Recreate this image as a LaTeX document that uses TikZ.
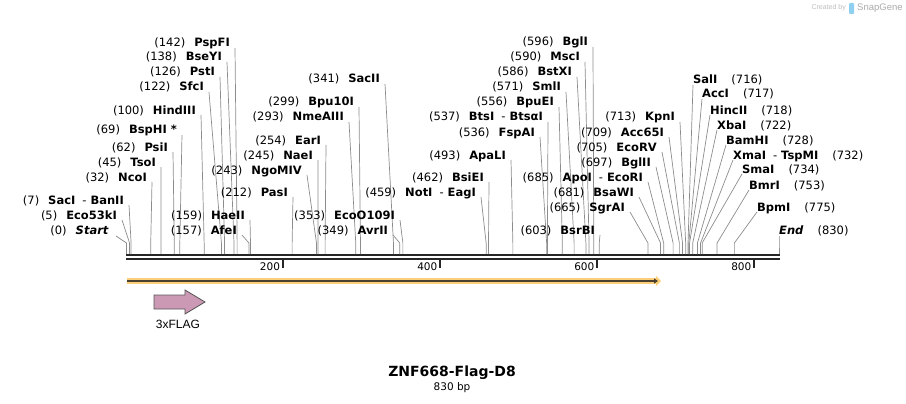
\documentclass[tikz,border=0pt]{standalone}
\usepackage{fontspec}
\setmainfont{DejaVu Sans}
\newfontfamily\featfont{Liberation Sans}
\usetikzlibrary{arrows.meta}
\definecolor{cut600}  {HTML}{8C8C8C}
\definecolor{feat200} {HTML}{FDCF78}
\definecolor{feat700} {HTML}{4A4030}
\definecolor{flag300} {HTML}{CC99B4}
\definecolor{grey700} {HTML}{555555}
\definecolor{grey300} {HTML}{BDBDBD}
\definecolor{logo300} {HTML}{8FD0F0}
\newcommand{\dashsep}{\hspace{7pt}\textmd{-}\hspace{4pt}}
\tikzset{
  enzl/.style  ={anchor=east, inner sep=0pt, text height=8pt, text depth=0pt,
                 font=\fontsize{11.5}{13}\selectfont},
  enzr/.style  ={enzl, anchor=west},
  cut/.style   ={draw=cut600, line width=0.7pt},
  bbone/.style ={draw=black!85, line width=2.4pt},
  tick/.style  ={draw=black!85, line width=1.6pt},
  ticklbl/.style={anchor=base east, inner sep=0pt, font=\fontsize{10.5}{12}\selectfont},
  featband/.style={draw=feat200, line width=6pt, -{Triangle[length=5pt,width=10pt]}},
  featline/.style={draw=feat700, line width=1.6pt, -{Triangle[length=4pt,width=5pt]}},
  flag/.style  ={draw=grey700, line width=0.8pt, fill=flag300},
  featlbl/.style={font=\featfont\fontsize{12}{14}\selectfont, inner sep=0pt}
}

\begin{document}
\begin{tikzpicture}[x=1pt, y=-1pt]
\useasboundingbox (0,0) rectangle (906,404);

% backbone, 0 bp at x=125.6, 0.7855 px per bp
\draw[bbone] (126,255.2) -- (780,255.2);
\draw[bbone] (126,259) -- (780,259);
\foreach \t/\tx in {200/282.7, 400/440, 600/597, 800/754} {
  \draw[tick] (\tx,260) -- (\tx,268);
  \node[ticklbl] (t\t) at (\tx-2.5,270) {\t};
}

% sites with the label on the left
\foreach \bp/\lx/\ly/\nm in {
    5/117/215/Eco53kI, 7/124/200/SacI\dashsep BanII, 32/147/177/NcoI,
    45/156/162/TsoI, 62/168/147/PsiI, 69/177/130/BspHI *, 100/196/110/HindIII,
    122/204/87/SfcI, 126/215/72/PstI, 138/222/57/BseYI, 142/230/43/PspFI,
    157/237/230/AfeI, 159/245/215/HaeII, 212/288/192/PasI, 243/302/170/NgoMIV,
    245/313/155/NaeI, 254/321/140/EarI, 293/344/117/NmeAIII, 299/354/102/Bpu10I,
    341/380/79/SacII, 349/388/230/AvrII, 353/395/215/EcoO109I,
    459/476/192/NotI\dashsep EagI, 462/484/177/BsiEI, 493/506/155/ApaLI,
    536/535/132/FspAI, 537/543/117/BtsI\dashsep BtsαI, 556/554/102/BpuEI,
    571/561/87/SmlI, 586/572/72/BstXI, 590/580/57/MscI, 596/588/42/BglI,
    603/595/230/BsrBI, 665/625/207/SgrAI, 681/634/192/BsaWI,
    685/643/177/ApoI\dashsep EcoRI, 697/651/162/BglII, 705/657/147/EcoRV,
    709/664/132/Acc65I, 713/675/117/KpnI} {
  \node[enzl] (e\bp) at (\lx,\ly) {(\bp)\hspace{9pt}\textbf{\nm}};
  \coordinate (c\bp) at ({125.6+0.7855*\bp},243);
  \draw[cut] ([shift={(5,5)}]e\bp.east) -- (c\bp) -- ++(0,11);
}

% sites with the label on the right
\foreach \bp/\lx/\ly/\nm in {
    716/693/80/SalI, 717/702/94/AccI, 718/710/110/HincII, 722/717/125/XbaI,
    728/726/140/BamHI, 732/733/155/XmaI\dashsep TspMI, 734/742/169/SmaI,
    753/749/185/BmrI, 775/757/207/BpmI} {
  \node[enzr] (e\bp) at (\lx,\ly) {\textbf{\nm}\hspace{14pt}(\bp)};
  \coordinate (c\bp) at ({125.6+0.7855*\bp},243);
  \draw[cut] ([shift={(0,5)}]e\bp.west) -- (c\bp) -- ++(0,11);
}

% ends of the sequence
\node[enzl] (e0) at (109,230) {(0)\hspace{9pt}\textbf{\textit{Start}}};
\coordinate (c0) at (126.5,243);
\draw[cut] ([shift={(7,6)}]e0.east) -- (c0) -- ++(0,11);
\node[enzr] (e830) at (779,230) {\textbf{\textit{End}}\hspace{14pt}(830)};
\coordinate (c830) at (779,243);
\draw[cut] ([shift={(0,6)}]e830.west) -- (c830) -- ++(0,11);

% features
\draw[featband] (127,281) -- (661,281);
\draw[featline] (127,281) -- (658,281);
\draw[flag] (154,295) -- (185,295) -- (185,290) -- (205,302) -- (185,314)
  -- (185,309) -- (154,309) -- cycle;
\node[featlbl] (flaglbl) at (178,324) {3xFLAG};

\node[font=\bfseries\fontsize{14}{16}\selectfont] (title) at (452,373) {ZNF668-Flag-D8};
\node[font=\fontsize{10.5}{12}\selectfont, inner sep=0pt] (size) at (452,388) {830 bp};

\node[anchor=east, inner sep=0pt, text=grey300, font=\featfont\fontsize{7}{8}\selectfont]
  (made) at (846,8) {Created by};
\fill[logo300, rounded corners=1pt] (849,3) rectangle (854,14);
\node[anchor=west, inner sep=0pt, text=grey300!90!black, font=\featfont\fontsize{9.5}{10}\selectfont]
  (brand) at (857,8) {SnapGene};
\end{tikzpicture}
\end{document}
